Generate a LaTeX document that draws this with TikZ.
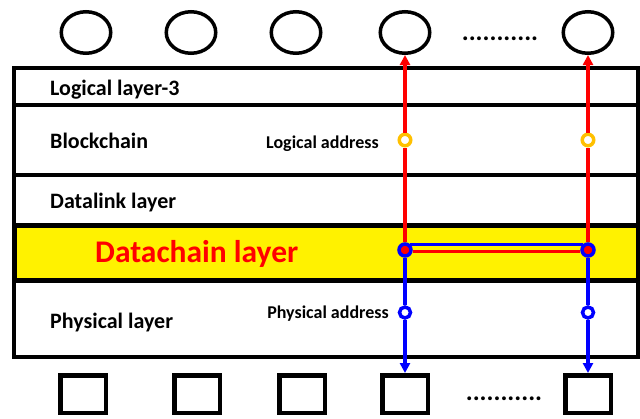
\documentclass[tikz,border=0pt]{standalone}
\usepackage{fontspec}
\setmainfont{Carlito}
\usetikzlibrary{arrows.meta,shapes.geometric}
\definecolor{lgorange}{RGB}{255,192,0}
\begin{document}
\begin{tikzpicture}[x=1pt,y=-1pt,
    layer/.style={draw,line width=3.5pt},
    lbl/.style={anchor=base west,inner sep=0pt,font=\fontsize{22}{22}\selectfont\bfseries},
    addr/.style={anchor=base east,inner sep=0pt,font=\fontsize{18}{18}\selectfont\bfseries},
    dots/.style={anchor=base,inner sep=0pt,font=\fontsize{26}{26}\selectfont\bfseries},
    hostc/.style={draw,ellipse,line width=3.5pt,minimum width=49.5pt,minimum height=41.5pt,inner sep=0pt},
    hosts/.style={draw,rectangle,line width=4.5pt,minimum width=45.5pt,minimum height=37.5pt,inner sep=0pt},
    lgm/.style={circle,draw=lgorange,fill=white,line width=3.5pt,minimum size=11.5pt,inner sep=0pt},
    pam/.style={circle,draw=blue,fill=white,line width=3.5pt,minimum size=11pt,inner sep=0pt},
    dcm/.style={circle,draw=blue,fill=red,line width=3.5pt,minimum size=12pt,inner sep=0pt},
    tip/.style={-{Triangle[length=10pt,width=10pt]}}]
  \useasboundingbox (0,0) rectangle (640,418);
  % layers
  \draw[layer] (14,68) rectangle (638,105);
  \draw[layer] (14,105) rectangle (638,175);
  \draw[layer] (14,175) rectangle (638,225);
  \draw[layer] (14,280) rectangle (638,357);
  \draw[layer,fill=yellow,line width=5pt] (14,225) rectangle (638,280);
  \node[lbl] (l3) at (50,95) {Logical layer-3};
  \node[lbl] (bc) at (50,148) {Blockchain};
  \node[lbl] (dl) at (50,208) {Datalink layer};
  \node[lbl,red,font=\fontsize{31.5}{31.5}\selectfont\bfseries] (dc) at (95,262) {Datachain layer};
  \node[lbl] (ph) at (50,328) {Physical layer};
  \node[addr] (la) at (379,148) {Logical address};
  \node[addr] (pa) at (389,318) {Physical address};
  % hosts
  \draw
    (86,32.5) node[hostc] (t1) {}
    (191,32.5) node[hostc] (t2) {}
    (296,32.5) node[hostc] (t3) {}
    (405,32.5) node[hostc] (t4) {}
    (588,32.5) node[hostc] (t5) {}
    (500,40) node[dots] (tdots) {...........};
  \draw
    (83,394) node[hosts] (p1) {}
    (197,394) node[hosts] (p2) {}
    (302,394) node[hosts] (p3) {}
    (405,394) node[hosts] (p4) {}
    (588,394) node[hosts] (p5) {}
    (504,400) node[dots] (pdots) {...........};
  % addresses
  \draw
    (405,140) node[lgm] (lgL) {}
    (588,140) node[lgm] (lgR) {}
    (405,250) node[dcm] (dcL) {}
    (588,250) node[dcm] (dcR) {}
    (405,312.5) node[pam] (paL) {}
    (588,312.5) node[pam] (paR) {};
  \begin{scope}[line width=3.5pt]
    \draw[red] (dcL) -- (lgL);
    \draw[red] (dcR) -- (lgR);
    \draw[red,tip] (lgL) -- (t4);
    \draw[red,tip] (lgR) -- (t5);
    \draw[blue] (dcL) -- (paL);
    \draw[blue] (dcR) -- (paR);
    \draw[blue,tip] (paL) -- (p4);
    \draw[blue,tip] (paR) -- (p5);
    \draw[blue] (dcL.45) -- (dcR.135);
    \draw[red] (dcL.-10) -- (dcR.190);
  \end{scope}
\end{tikzpicture}
\end{document}
